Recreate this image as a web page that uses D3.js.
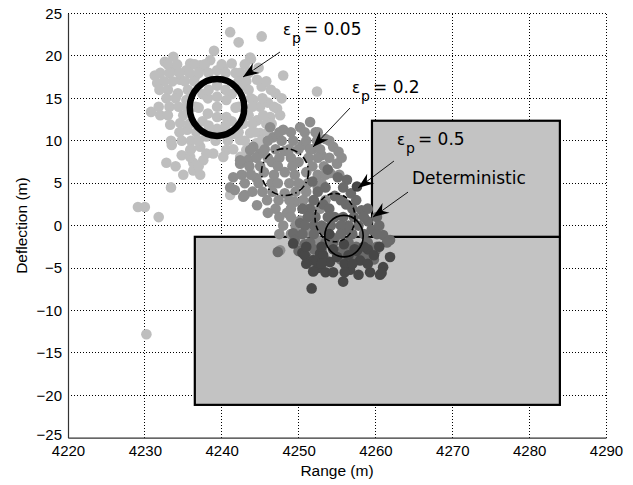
<!DOCTYPE html>
<html>
<head>
<meta charset="utf-8">
<script src="https://cdn.jsdelivr.net/npm/d3@7"></script>
<style>
  html, body { margin: 0; padding: 0; background: #fff; }
  svg { display: block; }
</style>
</head>
<body>
<svg id="chart"></svg>
<script>
const xTicks = [4220, 4230, 4240, 4250, 4260, 4270, 4280, 4290];
const yTicks = [-25, -20, -15, -10, -5, 0, 5, 10, 15, 20, 25];

// shaded regions: [x0, x1, y0, y1] in data units
const regions = [
  [4236.5, 4284.0, -21.13, -1.32],
  [4259.55, 4284.0, -1.32, 12.36],
];

// Monte Carlo impact points, [range, deflection]
const eps005Pts = [
  [4241.1, 22.8], [4242.2, 21.6], [4245.2, 22.3], [4239.0, 20.6], [4233.7, 19.9], [4232.6, 19.3],
  [4231.6, 16.8], [4232.0, 18.0], [4230.8, 13.4], [4232.0, 13.0], [4233.3, 11.9], [4234.6, 12.1],
  [4233.5, 9.5], [4234.8, 8.3], [4232.8, 7.4], [4236.3, 7.4], [4236.3, 6.5], [4233.4, 4.5],
  [4229.1, 2.2], [4230.0, 2.2], [4231.8, 1.0], [4248.0, 17.7], [4245.2, 16.4], [4247.2, 13.8],
  [4244.6, 12.4], [4252.4, 15.8], [4243.8, 19.6], [4241.3, 19.1], [4237.2, 18.9], [4235.4, 18.3],
  [4234.6, 17.2], [4234.3, 15.6], [4235.4, 14.8], [4242.4, 18.0], [4244.1, 14.8], [4235.5, 11.3],
  [4237.2, 9.3], [4238.9, 8.5], [4240.6, 8.9], [4242.4, 10.1], [4243.7, 10.9], [4235.9, 8.1],
  [4237.6, 7.7], [4240.2, 8.1], [4242.4, 8.1], [4243.7, 8.9], [4245.0, 10.9], [4230.2, -12.8],
  [4235.9, 8.9], [4238.0, 8.5], [4243.2, 8.9], [4244.5, 9.7], [4243.7, 6.3], [4241.1, 3.6],
  [4246.0, 14.5], [4245.8, 12.0], [4243.0, 16.5], [4236.5, 17.5], [4238.5, 19.5], [4240.2, 18.5],
  [4236.0, 10.0], [4238.0, 10.5], [4241.5, 10.8], [4244.8, 18.6], [4247.0, 15.6], [4231.3, 17.7],
  [4233.7, 18.3], [4235.9, 19.1], [4237.6, 18.7], [4239.4, 18.3], [4243.7, 19.8], [4244.6, 17.2],
  [4239.4, 14.0], [4237.5, 15.5], [4241.3, 15.5], [4237.5, 12.3], [4241.3, 12.3], [4236.6, 14.0],
  [4242.2, 14.0], [4239.4, 16.5], [4239.4, 11.4], [4238.2, 13.2], [4240.6, 14.8], [4238.2, 15.0],
  [4240.6, 12.8], [4246.3, 12.8], [4245.0, 14.0],
  [4233.0, 19.0], [4234.2, 19.0], [4236.5, 19.0], [4237.8, 19.0], [4240.0, 19.0], [4243.0, 19.0],
  [4233.2, 18.0], [4234.5, 18.0], [4235.8, 18.0], [4237.0, 18.0], [4238.3, 18.0], [4240.5, 18.0],
  [4241.8, 18.0], [4243.5, 18.0], [4232.5, 17.0], [4233.6, 17.0], [4235.2, 17.0], [4236.4, 17.0],
  [4242.2, 17.0], [4243.2, 17.0], [4245.8, 17.0], [4231.9, 16.0], [4233.0, 16.0], [4235.6, 16.0],
  [4243.5, 16.0], [4246.4, 16.0], [4232.8, 15.0], [4234.0, 15.0], [4243.8, 15.0], [4245.3, 15.0],
  [4247.8, 15.0], [4231.8, 14.0], [4233.2, 14.0], [4234.4, 14.0], [4235.5, 14.0], [4244.0, 14.0],
  [4246.8, 14.0], [4233.0, 13.0], [4235.0, 13.0], [4243.5, 13.0], [4245.4, 13.0], [4247.6, 13.0],
  [4235.8, 12.0], [4242.8, 12.0], [4244.0, 12.0], [4246.5, 12.0], [4234.5, 11.0], [4236.7, 11.0],
  [4238.4, 11.0], [4240.2, 11.0], [4242.2, 11.0], [4244.3, 11.0], [4246.0, 11.0], [4233.4, 10.0],
  [4234.8, 10.0], [4237.0, 10.0], [4239.2, 10.0], [4240.8, 10.0], [4243.0, 10.0], [4245.2, 10.0],
  [4236.0, 9.0], [4241.5, 9.0], [4244.8, 9.0], [4234.0, 7.0], [4237.0, 7.0], [4235.0, 6.0],
  [4237.2, 6.0], [4237.0, 13.9], [4241.8, 13.9], [4238.3, 16.0], [4240.5, 16.0], [4238.3, 11.8],
  [4240.5, 11.8], [4239.4, 12.8], [4239.4, 15.2],
];

const eps02Pts = [
  [4248.2, 6.3], [4246.5, 7.5], [4250.0, 7.5], [4246.5, 5.0], [4250.0, 5.0], [4248.2, 8.8],
  [4248.2, 3.8], [4245.5, 6.3], [4251.0, 6.3], [4251.5, 12.2], [4250.2, 11.6], [4248.0, 11.3],
  [4246.3, 11.6], [4246.7, 10.4], [4252.5, 11.0], [4253.5, 10.2], [4249.3, 10.0], [4247.0, 9.0],
  [4254.5, 9.3], [4255.2, 8.7], [4255.0, 7.3], [4254.1, 6.2], [4253.0, 8.3], [4252.5, 4.5],
  [4253.5, 3.0], [4244.1, 9.3], [4242.4, 7.3], [4241.5, 5.7], [4241.1, 4.5], [4243.0, 3.6],
  [4245.9, 3.0], [4244.5, 5.6], [4243.5, 7.8], [4245.0, 8.5], [4248.5, 1.5], [4250.2, 0.6],
  [4251.9, 3.0], [4247.0, 2.0], [4249.5, 2.8], [4251.0, -0.8], [4252.5, -1.8], [4247.6, -2.9],
  [4249.0, -1.0], [4250.5, -2.5], [4241.7, 4.2], [4242.8, 3.4], [4242.4, 7.7], [4243.7, 8.9],
  [4251.8, 9.0], [4250.5, 9.5], [4246.0, 1.5], [4244.6, 2.4],
  [4247.5, 11.0], [4249.0, 11.0], [4250.8, 11.0], [4252.2, 11.0], [4246.0, 10.0], [4247.8, 10.0],
  [4251.0, 10.0], [4252.4, 10.0], [4254.0, 10.0], [4245.6, 9.0], [4248.8, 9.0], [4250.0, 9.0],
  [4251.5, 9.0], [4252.8, 9.0], [4244.5, 8.0], [4246.0, 8.0], [4247.5, 8.0], [4249.0, 8.0],
  [4251.3, 8.0], [4252.5, 8.0], [4254.0, 8.0], [4255.6, 8.0], [4243.6, 7.0], [4245.0, 7.0],
  [4247.3, 7.0], [4249.2, 7.0], [4251.8, 7.0], [4253.3, 7.0], [4242.6, 6.0], [4243.8, 6.0],
  [4246.8, 6.0], [4249.5, 6.0], [4252.5, 6.0], [4253.5, 6.0], [4255.3, 6.0], [4243.0, 5.0],
  [4244.8, 5.0], [4247.3, 5.0], [4248.8, 5.0], [4251.2, 5.0], [4253.0, 5.0], [4244.0, 4.0],
  [4245.3, 4.0], [4246.6, 4.0], [4249.6, 4.0], [4251.0, 4.0], [4247.4, 3.0], [4248.8, 3.0],
  [4250.6, 3.0], [4249.0, 2.0], [4250.8, 2.0], [4252.8, 2.0], [4247.5, 1.0], [4249.0, 1.0],
  [4251.5, 1.0], [4248.0, 0.0], [4249.6, 0.0], [4252.0, 0.0], [4247.5, -1.0], [4250.0, -1.0],
];

const eps05Pts = [
  [4254.7, 1.0], [4253.2, 2.5], [4256.2, 2.5], [4253.2, -0.5], [4256.2, -0.5], [4254.7, 3.5],
  [4254.7, -1.5], [4252.2, 1.0], [4257.2, 1.0], [4255.1, 5.7], [4256.3, 5.4], [4256.8, 3.8],
  [4252.5, 4.0], [4251.5, 2.0], [4250.2, 0.3], [4249.3, -0.9], [4249.5, -1.7], [4250.8, -2.2],
  [4252.0, -2.8], [4253.5, -2.0], [4255.5, -3.0], [4257.5, -2.5], [4258.5, -1.0], [4259.5, -0.5],
  [4261.0, -1.1], [4261.9, -1.7], [4260.2, -2.5], [4258.8, -3.5], [4257.2, -4.0], [4251.0, -3.6],
  [4253.8, -4.2], [4258.2, 1.8], [4259.0, 0.5], [4251.8, 5.2], [4253.8, 6.6], [4256.5, 0.0],
  [4253.0, 0.0], [4247.3, -3.1],
  [4253.5, 4.5], [4255.8, 4.5], [4252.0, 3.0], [4255.5, 3.0], [4257.5, 3.0], [4250.5, 2.0],
  [4254.0, 2.0], [4257.0, 2.0], [4259.0, 2.0], [4251.2, 1.0], [4253.8, 1.0], [4255.8, 1.0],
  [4258.5, 1.0], [4260.2, 1.0], [4250.8, 0.0], [4252.0, 0.0], [4254.2, 0.0], [4255.5, 0.0],
  [4257.8, 0.0], [4260.5, 0.0], [4250.5, -1.0], [4252.0, -1.0], [4255.5, -1.0], [4257.0, -1.0],
  [4260.2, -1.0], [4251.5, -2.0], [4254.5, -2.0], [4256.5, -2.0], [4259.0, -2.0], [4261.5, -2.0],
  [4250.0, -3.0], [4253.0, -3.0], [4256.8, -3.0], [4260.0, -3.0], [4252.0, -4.0], [4255.5, -4.0],
  [4259.8, -4.0],
];

const detPts = [
  [4255.9, -2.2], [4254.5, -2.8], [4257.3, -2.8], [4251.7, -7.4], [4255.8, -6.6], [4252.5, -5.0],
  [4254.1, -4.3], [4256.7, -5.2], [4259.3, -5.5], [4260.6, -5.8], [4261.9, -3.7], [4261.0, -4.9],
  [4258.0, -4.1], [4251.9, -4.1], [4255.0, -3.7], [4252.8, -3.3], [4251.9, -5.4], [4260.8, -5.6],
  [4252.4, -4.1], [4257.6, -3.0], [4259.0, -2.8], [4253.5, -5.5], [4257.8, -5.8], [4250.5, -3.2],
  [4249.3, -2.1], [4256.0, -4.5], [4254.0, -1.0], [4257.6, 4.6],
  [4250.8, -3.5], [4253.2, -3.5], [4256.5, -3.5], [4259.8, -3.5], [4251.0, -4.5], [4253.0, -4.5],
  [4257.0, -4.5], [4259.0, -4.5], [4254.5, -5.5], [4256.0, -5.5], [4251.0, -2.5], [4253.0, -2.5],
  [4258.5, -2.5], [4260.5, -2.5],
];

// confidence circles: centre and half-widths in data units
const rings = [
  { name: "0.05", cx: 4239.39, cy: 13.92, rx: 3.55, ry: 3.35 },
  { name: "0.2", cx: 4248.23, cy: 6.31, rx: 3.06, ry: 2.77 },
  { name: "0.5", cx: 4254.74, cy: 0.94, rx: 2.6, ry: 2.85 },
  { name: "det", cx: 4255.91, cy: -1.24, rx: 2.5, ry: 2.45 },
];

// annotation labels and arrows (data units)
const labels = [
  { sub: "p", val: "= 0.05", x: 4247.97, y: 22.46 },
  { sub: "p", val: "= 0.2", x: 4256.95, y: 15.59 },
  { sub: "p", val: "= 0.5", x: 4262.8, y: 9.55 },
  { sub: null, val: "Deterministic", x: 4264.76, y: 4.89 },
];
const arrows = [
  [4247.58, 20.46, 4242.77, 17.51],
  [4256.69, 13.86, 4251.88, 9.26],
  [4262.41, 7.61, 4257.73, 4.42],
  [4264.24, 3.95, 4259.68, 1.0],
];

const width = 633, height = 485;
const margin = { top: 13.5, right: 27, bottom: 47.3, left: 68 };

const x = d3.scaleLinear().domain([4220, 4290]).range([margin.left, width - margin.right]);
const y = d3.scaleLinear().domain([-25, 25]).range([height - margin.bottom, margin.top]);

const svg = d3.select("#chart").attr("width", width).attr("height", height);
const tickFont = "'Liberation Sans', Arial, sans-serif";
const noteFont = "'DejaVu Sans', Verdana, sans-serif";

// dotted grid
const grid = svg.append("g")
  .attr("stroke", "#000")
  .attr("stroke-width", 1)
  .attr("stroke-dasharray", "1,2")
  .attr("shape-rendering", "crispEdges");
grid.selectAll("line.gx")
  .data(xTicks.slice(1))
  .join("line")
  .attr("class", "gx")
  .attr("x1", (d) => x(d)).attr("x2", (d) => x(d))
  .attr("y1", y(-25)).attr("y2", y(25));
grid.selectAll("line.gy")
  .data(yTicks.slice(1))
  .join("line")
  .attr("class", "gy")
  .attr("x1", x(4220)).attr("x2", x(4290))
  .attr("y1", (d) => y(d)).attr("y2", (d) => y(d));

// shaded boxes
svg.append("g")
  .selectAll("rect")
  .data(regions)
  .join("rect")
  .attr("x", (d) => x(d[0]))
  .attr("y", (d) => y(d[3]))
  .attr("width", (d) => x(d[1]) - x(d[0]))
  .attr("height", (d) => y(d[2]) - y(d[3]))
  .attr("fill", "#c3c3c3")
  .attr("stroke", "#000")
  .attr("stroke-width", 2.2);

// scatter clouds
const clouds = [
  { pts: eps005Pts, fill: "#bebebe" },
  { pts: eps02Pts, fill: "#8e8e8e" },
  { pts: eps05Pts, fill: "#6b6b6b" },
  { pts: detPts, fill: "#474747" },
];
for (const c of clouds) {
  svg.append("g")
    .selectAll("circle")
    .data(c.pts)
    .join("circle")
    .attr("cx", (d) => x(d[0]))
    .attr("cy", (d) => y(d[1]))
    .attr("r", 5.3)
    .attr("fill", c.fill);
}

// rings
const ringStyle = {
  "0.05": { w: 6.5, dash: null },
  "0.2": { w: 1.6, dash: "7,3,1.5,3" },
  "0.5": { w: 1.6, dash: "5,3" },
  det: { w: 1.6, dash: null },
};
svg.append("g")
  .selectAll("ellipse")
  .data(rings)
  .join("ellipse")
  .attr("cx", (d) => x(d.cx))
  .attr("cy", (d) => y(d.cy))
  .attr("rx", (d) => x(d.cx + d.rx) - x(d.cx))
  .attr("ry", (d) => y(d.cy) - y(d.cy + d.ry))
  .attr("fill", "none")
  .attr("stroke", "#000")
  .attr("stroke-width", (d) => ringStyle[d.name].w)
  .attr("stroke-dasharray", (d) => ringStyle[d.name].dash);

// arrows
function headPath(x1, y1, x2, y2) {
  const a = Math.atan2(y2 - y1, x2 - x1);
  const ux = Math.cos(a), uy = Math.sin(a);
  const L = 16, W = 6, N = 11;
  const bx = x2 - ux * L, by = y2 - uy * L;
  const nx = x2 - ux * N, ny = y2 - uy * N;
  return `M${x2},${y2}L${bx - uy * W},${by + ux * W}L${nx},${ny}L${bx + uy * W},${by - ux * W}Z`;
}
const arrowG = svg.append("g");
arrowG.selectAll("line")
  .data(arrows)
  .join("line")
  .attr("x1", (d) => x(d[0])).attr("y1", (d) => y(d[1]))
  .attr("x2", (d) => x(d[2])).attr("y2", (d) => y(d[3]))
  .attr("stroke", "#000")
  .attr("stroke-width", 0.9);
arrowG.selectAll("path")
  .data(arrows)
  .join("path")
  .attr("d", (d) => headPath(x(d[0]), y(d[1]), x(d[2]), y(d[3])))
  .attr("fill", "#000");

// labels
const noteG = svg.append("g")
  .attr("font-family", noteFont)
  .attr("font-size", 17)
  .attr("fill", "#000");
labels.forEach((d) => {
  const t = noteG.append("text").attr("x", x(d.x)).attr("y", y(d.y));
  if (d.sub) {
    t.append("tspan").text("ε").attr("font-size", 15);
    t.append("tspan").text(d.sub).attr("font-size", 14).attr("dy", 8).attr("dx", 1);
    t.append("tspan").text(d.val).attr("dy", -8).attr("dx", 3);
  } else {
    t.text(d.val);
  }
});

// axes
const yAxis = svg.append("g")
  .attr("transform", `translate(${margin.left},0)`)
  .call(d3.axisLeft(y).tickValues(yTicks).tickSize(0).tickPadding(6));
const xAxis = svg.append("g")
  .attr("transform", `translate(0,${height - margin.bottom})`)
  .call(d3.axisBottom(x).tickValues(xTicks).tickSize(0).tickPadding(8).tickFormat(d3.format("d")));
for (const ax of [xAxis, yAxis]) {
  ax.attr("font-family", tickFont).attr("font-size", 15);
  ax.select(".domain").attr("stroke", "#333").attr("stroke-width", 1.2);
  ax.selectAll("text").attr("fill", "#000");
}
// MATLAB nudges the lowest y label up a touch
yAxis.selectAll(".tick text").filter((d) => d === -25).attr("dy", "0.1em");

svg.append("text")
  .attr("x", 337)
  .attr("y", 476)
  .attr("text-anchor", "middle")
  .attr("font-family", tickFont)
  .attr("font-size", 15.5)
  .text("Range (m)");
svg.append("text")
  .attr("transform", `translate(27,${(margin.top + height - margin.bottom) / 2}) rotate(-90)`)
  .attr("text-anchor", "middle")
  .attr("font-family", tickFont)
  .attr("font-size", 15.5)
  .text("Deflection (m)");
</script>
</body>
</html>
